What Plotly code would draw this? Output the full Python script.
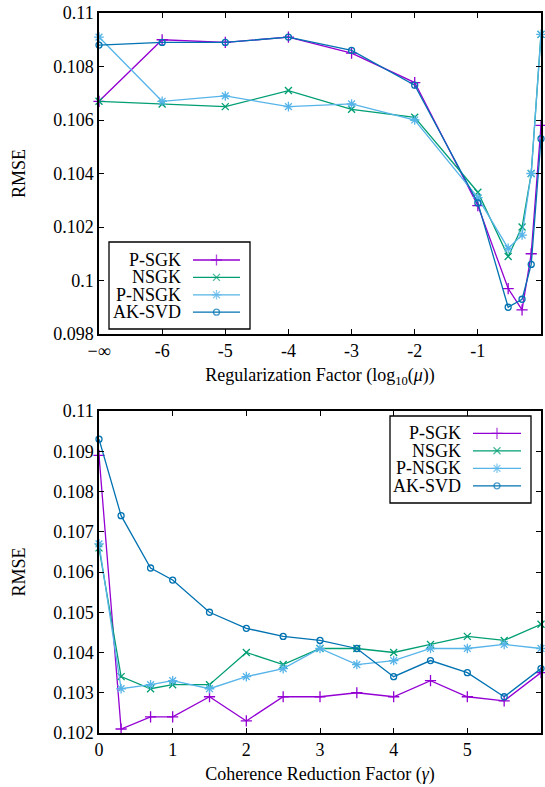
import plotly.graph_objects as go

# ---------- data: top panel (regularization factor) ----------
reg_x = [-7, -6, -5, -4, -3, -2, -1, -0.52, -0.3, -0.155, 0]   # -7 stands for -inf
reg_tickvals = [-7, -6, -5, -4, -3, -2, -1, 0]
reg_ticktext = ["\u2212\u221e", "-6", "-5", "-4", "-3", "-2", "-1", "0"]

top_psgk  = [0.1067, 0.1090, 0.1089, 0.1091, 0.1085, 0.1074, 0.1028, 0.0997, 0.0989, 0.1010, 0.1058]
top_nsgk  = [0.1067, 0.1066, 0.1065, 0.1071, 0.1064, 0.1061, 0.1033, 0.1009, 0.1020, 0.1040, 0.1092]
top_pnsgk = [0.1091, 0.1067, 0.1069, 0.1065, 0.1066, 0.1060, 0.1031, 0.1012, 0.1017, 0.1040, 0.1092]
top_aksvd = [0.1088, 0.1089, 0.1089, 0.1091, 0.1086, 0.1073, 0.1029, 0.0990, 0.0993, 0.1006, 0.1053]

top_ytickvals = [0.098, 0.100, 0.102, 0.104, 0.106, 0.108, 0.110]
top_yticktext = ["0.098", "0.1", "0.102", "0.104", "0.106", "0.108", "0.11"]

# ---------- data: bottom panel (coherence reduction factor) ----------
coh_x = [0, 0.3, 0.7, 1, 1.5, 2, 2.5, 3, 3.5, 4, 4.5, 5, 5.5, 6]
bot_psgk  = [0.1089, 0.1021, 0.1024, 0.1024, 0.1029, 0.1023, 0.1029, 0.1029, 0.1030, 0.1029, 0.1033, 0.1029, 0.1028, 0.1035]
bot_nsgk  = [0.1066, 0.1034, 0.1031, 0.1032, 0.1032, 0.1040, 0.1037, 0.1041, 0.1041, 0.1040, 0.1042, 0.1044, 0.1043, 0.1047]
bot_pnsgk = [0.1067, 0.1031, 0.1032, 0.1033, 0.1031, 0.1034, 0.1036, 0.1041, 0.1037, 0.1038, 0.1041, 0.1041, 0.1042, 0.1041]
bot_aksvd = [0.1093, 0.1074, 0.1061, 0.1058, 0.1050, 0.1046, 0.1044, 0.1043, 0.1041, 0.1034, 0.1038, 0.1035, 0.1029, 0.1036]

bot_ytickvals = [0.102, 0.103, 0.104, 0.105, 0.106, 0.107, 0.108, 0.109, 0.110]
bot_yticktext = ["0.102", "0.103", "0.104", "0.105", "0.106", "0.107", "0.108", "0.109", "0.11"]
bot_xtickvals = [0, 1, 2, 3, 4, 5, 6]

names = ["P-SGK", "NSGK", "P-NSGK", "AK-SVD"]
colors = ["#9400D3", "#009E73", "#56B4E9", "#0072B2"]
symbols = ["cross-thin", "x-thin", "asterisk-open", "circle-open"]
sizes = [8, 7, 8, 6]

FONT = "Liberation Serif"
FS = 18

W, H = 545, 787
ML, MR, MT, MB = 99, 4, 13, 54

fig = go.Figure()

top_series = [top_psgk, top_nsgk, top_pnsgk, top_aksvd]
bot_series = [bot_psgk, bot_nsgk, bot_pnsgk, bot_aksvd]


def marker(i):
    return dict(symbol=symbols[i], size=sizes[i], color=colors[i],
                line=dict(color=colors[i], width=1.3))


for i in range(4):
    fig.add_trace(go.Scatter(
        x=reg_x, y=top_series[i], name=names[i], mode="lines+markers",
        line=dict(color=colors[i], width=1.3), marker=marker(i), cliponaxis=False,
        xaxis="x", yaxis="y", showlegend=False))
for i in range(4):
    fig.add_trace(go.Scatter(
        x=coh_x, y=bot_series[i], name=names[i], mode="lines+markers",
        line=dict(color=colors[i], width=1.3), marker=marker(i), cliponaxis=False,
        xaxis="x2", yaxis="y2", showlegend=False))

# ---------- gnuplot-style legends (text left, sample right), on a pixel-coordinate overlay axis ----------
legends = [
    dict(box=(109, 250, 242, 329), text_right=182, line=(193, 240), rows=[260, 277.4, 294.8, 312.2]),
    dict(box=(390, 531, 416, 503), text_right=462, line=(473, 521), rows=[433.3, 450.8, 468.3, 485.8]),
]
for lg in legends:
    x0, x1, y0, y1 = lg["box"]
    fig.add_shape(type="rect", xref="x3", yref="y3", x0=x0, x1=x1, y0=y0, y1=y1,
                  line=dict(color="black", width=1.3), fillcolor="white", layer="below")
    lx0, lx1 = lg["line"]
    for i, ry in enumerate(lg["rows"]):
        fig.add_annotation(xref="x3", yref="y3", x=lg["text_right"], y=ry, text=names[i],
                           showarrow=False, xanchor="right", yanchor="middle",
                           borderpad=0, font=dict(family=FONT, size=FS, color="black"))
        fig.add_trace(go.Scatter(x=[lx0, (lx0 + lx1) / 2, lx1], y=[ry, ry, ry], mode="lines+markers",
                                 line=dict(color=colors[i], width=1.3),
                                 marker=dict(symbol=symbols[i], size=[0, sizes[i], 0], color=colors[i],
                                             line=dict(color=colors[i], width=1.3)),
                                 xaxis="x3", yaxis="y3", showlegend=False, hoverinfo="skip"))

axis_common = dict(showline=True, linecolor="black", linewidth=1.5, mirror="allticks",
                   ticks="inside", ticklen=5, tickwidth=1, tickcolor="black",
                   showgrid=False, zeroline=False,
                   tickfont=dict(family=FONT, size=FS, color="black"))

top_dom = [(H - MB - 334) / (H - MT - MB), 1]
bot_dom = [0, (H - MB - 411) / (H - MT - MB)]

fig.update_layout(
    width=W, height=H,
    margin=dict(l=ML, r=MR, t=MT, b=MB, autoexpand=False),
    plot_bgcolor="rgba(0,0,0,0)", paper_bgcolor="white",
    font=dict(family=FONT, color="black", size=FS),
    showlegend=False,
    xaxis=dict(domain=[0, 1], range=[-7, 0], tickvals=reg_tickvals, ticktext=reg_ticktext,
               anchor="y",
               title=dict(text="Regularization Factor (log<sub>10</sub>(<i>\u03bc</i>))",
                          font=dict(family=FONT, size=FS), standoff=8),
               **axis_common),
    yaxis=dict(domain=top_dom, range=[0.098, 0.110], tickvals=top_ytickvals,
               ticktext=top_yticktext, anchor="x",
               title=dict(text="RMSE", font=dict(family=FONT, size=FS), standoff=23),
               **axis_common),
    xaxis2=dict(domain=[0, 1], range=[0, 6], tickvals=bot_xtickvals, anchor="y2",
                title=dict(text="Coherence Reduction Factor (<i>\u03b3</i>)",
                           font=dict(family=FONT, size=FS), standoff=8),
                **axis_common),
    yaxis2=dict(domain=bot_dom, range=[0.102, 0.110], tickvals=bot_ytickvals,
                ticktext=bot_yticktext, anchor="x2",
                title=dict(text="RMSE", font=dict(family=FONT, size=FS), standoff=23),
                **axis_common),
    xaxis3=dict(domain=[0, 1], range=[ML, W - MR], visible=False, anchor="y3", fixedrange=True),
    yaxis3=dict(domain=[0, 1], range=[H - MB, MT], visible=False, anchor="x3", fixedrange=True),
)

fig.write_html("out.html", config={"displayModeBar": False},
               post_script="document.body.style.margin='0';document.body.style.overflow='hidden';")
